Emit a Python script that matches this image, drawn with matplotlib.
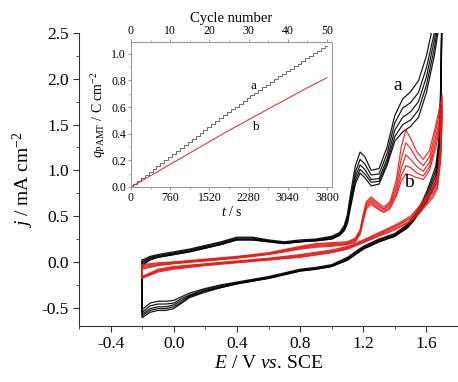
import numpy as np
import matplotlib
matplotlib.use("Agg")
import matplotlib.pyplot as plt
from matplotlib.ticker import MultipleLocator

plt.rcParams['font.family'] = ['Liberation Serif', 'DejaVu Serif']
plt.rcParams['mathtext.fontset'] = 'custom'
plt.rcParams['mathtext.rm'] = 'Liberation Serif'
plt.rcParams['mathtext.it'] = 'Liberation Serif:italic'

# ---- main CV data: series a (black), 5 representative cycles ----
Ea_fwd = [-0.2, -0.15, -0.1, 0.0, 0.1, 0.2, 0.3, 0.4, 0.5, 0.6, 0.7, 0.8, 0.9, 1.0, 1.05,
          1.08, 1.1, 1.12, 1.15, 1.18, 1.21, 1.25, 1.3, 1.35, 1.4, 1.45, 1.5, 1.55, 1.6, 1.65, 1.7]
ja_fwd = [
    [0.02, 0.06, 0.08, 0.11, 0.14, 0.18, 0.22, 0.27, 0.27, 0.24, 0.22, 0.24, 0.25, 0.28, 0.32,
     0.40, 0.52, 0.75, 1.05, 1.20, 1.15, 1.00, 1.02, 1.25, 1.60, 1.78, 1.86, 1.98, 2.25, 2.65, 3.0],
    [0.0, 0.05, 0.07, 0.10, 0.13, 0.17, 0.21, 0.26, 0.26, 0.23, 0.21, 0.23, 0.24, 0.27, 0.31,
     0.38, 0.49, 0.70, 0.98, 1.12, 1.07, 0.95, 0.96, 1.18, 1.52, 1.68, 1.74, 1.85, 2.12, 2.5, 2.95],
    [-0.01, 0.04, 0.06, 0.09, 0.12, 0.16, 0.20, 0.25, 0.25, 0.23, 0.21, 0.22, 0.24, 0.26, 0.30,
     0.36, 0.46, 0.66, 0.93, 1.06, 1.01, 0.90, 0.91, 1.12, 1.44, 1.58, 1.64, 1.75, 2.02, 2.42, 2.9],
    [-0.03, 0.03, 0.05, 0.08, 0.11, 0.15, 0.19, 0.24, 0.24, 0.22, 0.20, 0.22, 0.23, 0.25, 0.29,
     0.35, 0.44, 0.63, 0.89, 1.01, 0.96, 0.87, 0.88, 1.08, 1.37, 1.50, 1.55, 1.66, 1.93, 2.33, 2.85],
    [-0.04, 0.02, 0.05, 0.08, 0.11, 0.15, 0.19, 0.24, 0.24, 0.22, 0.20, 0.22, 0.23, 0.25, 0.29,
     0.34, 0.42, 0.60, 0.85, 0.97, 0.92, 0.83, 0.85, 1.05, 1.32, 1.42, 1.48, 1.58, 1.85, 2.25, 2.8],
]
Ea_rev = [1.7, 1.69, 1.68, 1.66, 1.63, 1.6, 1.56, 1.52, 1.48, 1.4, 1.3, 1.2, 1.1, 1.0, 0.9,
          0.8, 0.7, 0.6, 0.5, 0.4, 0.3, 0.2, 0.1, 0.05, 0.0, -0.05, -0.1, -0.15, -0.2]
ja_rev = [
    [3.0, 1.9, 1.35, 1.05, 0.90, 0.76, 0.61, 0.50, 0.41, 0.31, 0.25, 0.17, 0.05, -0.03, -0.06,
     -0.08, -0.12, -0.16, -0.19, -0.22, -0.25, -0.29, -0.34, -0.38, -0.42, -0.43, -0.43, -0.45, -0.52],
    [2.95, 1.82, 1.28, 1.0, 0.86, 0.73, 0.59, 0.49, 0.40, 0.30, 0.24, 0.16, 0.04, -0.04, -0.07,
     -0.09, -0.13, -0.17, -0.20, -0.23, -0.26, -0.30, -0.36, -0.40, -0.45, -0.46, -0.46, -0.48, -0.55],
    [2.9, 1.75, 1.22, 0.95, 0.82, 0.70, 0.58, 0.47, 0.39, 0.29, 0.23, 0.15, 0.03, -0.04, -0.07,
     -0.09, -0.13, -0.17, -0.20, -0.23, -0.27, -0.31, -0.37, -0.42, -0.47, -0.49, -0.49, -0.51, -0.57],
    [2.85, 1.68, 1.16, 0.90, 0.78, 0.67, 0.56, 0.46, 0.38, 0.28, 0.22, 0.14, 0.02, -0.05, -0.08,
     -0.10, -0.14, -0.18, -0.21, -0.24, -0.28, -0.32, -0.38, -0.44, -0.49, -0.51, -0.51, -0.53, -0.59],
    [2.8, 1.6, 1.1, 0.85, 0.75, 0.65, 0.55, 0.45, 0.37, 0.28, 0.22, 0.14, 0.02, -0.05, -0.08,
     -0.10, -0.14, -0.18, -0.21, -0.24, -0.28, -0.33, -0.39, -0.45, -0.51, -0.53, -0.53, -0.55, -0.61],
]

# ---- series b (red) ----
Eb_fwd = [-0.2, -0.1, 0.0, 0.2, 0.4, 0.6, 0.8, 0.9, 1.0, 1.1, 1.15, 1.18, 1.2, 1.22, 1.25,
          1.29, 1.33, 1.37, 1.41, 1.44, 1.47, 1.5, 1.54, 1.58, 1.62, 1.66, 1.7]
jb_fwd = [
    [-0.03, -0.01, 0.0, 0.03, 0.06, 0.10, 0.17, 0.20, 0.21, 0.22, 0.26, 0.35, 0.52, 0.66, 0.71,
     0.65, 0.60, 0.66, 0.90, 1.25, 1.44, 1.35, 1.20, 1.12, 1.22, 1.50, 1.82],
    [-0.04, -0.02, -0.005, 0.025, 0.055, 0.095, 0.16, 0.19, 0.20, 0.21, 0.25, 0.34, 0.50, 0.64, 0.69,
     0.63, 0.58, 0.64, 0.84, 1.12, 1.30, 1.24, 1.12, 1.05, 1.15, 1.44, 1.76],
    [-0.05, -0.03, -0.01, 0.02, 0.05, 0.09, 0.155, 0.18, 0.19, 0.20, 0.24, 0.33, 0.48, 0.62, 0.67,
     0.61, 0.57, 0.62, 0.79, 1.02, 1.17, 1.12, 1.04, 0.99, 1.09, 1.37, 1.70],
    [-0.065, -0.035, -0.015, 0.015, 0.045, 0.085, 0.145, 0.17, 0.18, 0.195, 0.23, 0.31, 0.46, 0.60, 0.65,
     0.59, 0.55, 0.60, 0.75, 0.94, 1.05, 1.03, 0.97, 0.94, 1.04, 1.31, 1.65],
    [-0.08, -0.04, -0.02, 0.01, 0.04, 0.08, 0.14, 0.16, 0.17, 0.19, 0.22, 0.30, 0.45, 0.58, 0.63,
     0.58, 0.54, 0.58, 0.72, 0.88, 0.96, 0.95, 0.92, 0.90, 1.00, 1.25, 1.60],
]
Eb_rev = [1.7, 1.69, 1.67, 1.64, 1.6, 1.55, 1.5, 1.4, 1.3, 1.2, 1.1, 1.0, 0.8, 0.6, 0.4, 0.2,
          0.0, -0.1, -0.2]
jb_rev = [
    [1.82, 1.30, 0.95, 0.82, 0.72, 0.60, 0.50, 0.40, 0.32, 0.24, 0.17, 0.13, 0.08, 0.04, 0.01,
     -0.02, -0.05, -0.08, -0.16],
    [1.76, 1.25, 0.91, 0.79, 0.70, 0.58, 0.48, 0.39, 0.31, 0.23, 0.16, 0.12, 0.07, 0.035, 0.005,
     -0.025, -0.06, -0.09, -0.165],
    [1.70, 1.20, 0.87, 0.76, 0.67, 0.56, 0.47, 0.38, 0.30, 0.22, 0.155, 0.115, 0.065, 0.03, 0.0,
     -0.03, -0.065, -0.095, -0.17],
    [1.65, 1.15, 0.83, 0.73, 0.64, 0.54, 0.45, 0.36, 0.29, 0.215, 0.145, 0.105, 0.055, 0.025, -0.005,
     -0.035, -0.07, -0.10, -0.175],
    [1.60, 1.10, 0.80, 0.70, 0.62, 0.52, 0.44, 0.35, 0.28, 0.21, 0.14, 0.10, 0.05, 0.02, -0.01,
     -0.04, -0.08, -0.11, -0.18],
]

# ---- inset: charge vs time ----
cycle_time = 76  # s per cycle
q_a = [0.000, 0.024, 0.047, 0.070, 0.092, 0.114, 0.136, 0.158, 0.180, 0.202,
       0.225, 0.247, 0.270, 0.292, 0.315, 0.337, 0.360, 0.382, 0.405, 0.427,
       0.450, 0.472, 0.494, 0.516, 0.538, 0.560, 0.582, 0.603, 0.624, 0.645,
       0.666, 0.687, 0.708, 0.728, 0.749, 0.769, 0.789, 0.810, 0.830, 0.850,
       0.870, 0.889, 0.908, 0.927, 0.946, 0.965, 0.984, 1.003, 1.022, 1.041, 1.060]
cyc_b = [0, 5, 10, 15, 20, 25, 30, 35, 40, 45, 50]
q_b = [0.0, 0.085, 0.17, 0.255, 0.34, 0.425, 0.505, 0.585, 0.665, 0.745, 0.82]

red = '#e3201c'

fig = plt.figure(figsize=(4.58, 3.82), dpi=100)
ax = fig.add_axes([0.1725, 0.1466, 0.8275, 0.767])

for jf, jr in zip(ja_fwd, ja_rev):
    E = Ea_fwd + Ea_rev + [Ea_fwd[0]]
    j = jf + jr + [jf[0]]
    ax.plot(E, j, color='k', lw=0.9, alpha=0.9)
for jf, jr in zip(jb_fwd, jb_rev):
    E = Eb_fwd + Eb_rev + [Eb_fwd[0]]
    j = jf + jr + [jf[0]]
    ax.plot(E, j, color=red, lw=0.9, alpha=0.9)

ax.set_xlim(-0.6, 1.8)
ax.set_ylim(-0.7, 2.5)
ax.xaxis.set_minor_locator(MultipleLocator(0.2))
ax.yaxis.set_minor_locator(MultipleLocator(0.25))
ax.set_xticks([-0.4, 0.0, 0.4, 0.8, 1.2, 1.6])
ax.set_xticklabels(['-0.4', '0.0', '0.4', '0.8', '1.2', '1.6'])
ax.set_yticks([-0.5, 0.0, 0.5, 1.0, 1.5, 2.0, 2.5])
ax.set_yticklabels(['-0.5', '0.0', '0.5', '1.0', '1.5', '2.0', '2.5'])
for s in ['top', 'right']:
    ax.spines[s].set_visible(False)
for s in ['left', 'bottom']:
    ax.spines[s].set_color('#333333')
ax.tick_params(which='major', direction='out', length=4, labelsize=12.5, color='#333333')
ax.tick_params(which='minor', direction='out', length=2.5, color='#333333')
ax.set_xlabel(r'$\mathit{E}$ / V $\mathit{vs}$. SCE', fontsize=14, labelpad=2)
ax.set_ylabel(r'$\mathit{j}$ / mA cm$^{-2}$', fontsize=14, labelpad=4)
ax.text(1.42, 1.93, 'a', fontsize=14, ha='center', va='center')
ax.text(1.49, 0.87, 'b', fontsize=14, ha='center', va='center')

# inset
ins = fig.add_axes([0.286, 0.5105, 0.439, 0.380])
t_a = [c * cycle_time for c in range(len(q_a))]
ins.plot(t_a, q_a, color='#555555', lw=0.6, drawstyle='steps-mid')
ins.plot([c * cycle_time for c in cyc_b], q_b, color=red, lw=0.7)
ins.set_xlim(0, 3900)
ins.set_ylim(0, 1.09)
ins.set_xticks([0, 760, 1520, 2280, 3040, 3800])
ins.xaxis.set_minor_locator(MultipleLocator(380))
ins.yaxis.set_minor_locator(MultipleLocator(0.1))
ins.set_yticks([0.0, 0.2, 0.4, 0.6, 0.8, 1.0])
ins.set_yticklabels(['0.0', '0.2', '0.4', '0.6', '0.8', '1.0'])
for s in ins.spines.values():
    s.set_color('#999999')
    s.set_linewidth(0.8)
ins.tick_params(which='major', direction='out', length=2.5, labelsize=8.5, color='#999999', pad=1)
ins.tick_params(which='minor', direction='out', length=1.5, color='#999999')
ins.set_xlabel(r'$\mathit{t}$ / s', fontsize=10, labelpad=1)
ins.set_ylabel(r'$\mathit{q}_{\mathrm{PAMT}}$ / C cm$^{-2}$', fontsize=10, labelpad=2)
ins.text(2385, 0.76, 'a', fontsize=9.5, ha='center', va='center')
ins.text(2420, 0.45, 'b', fontsize=9.5, ha='center', va='center')

top = ins.twiny()
top.set_xlim(0, 3900 / cycle_time)
top.set_xticks([0, 10, 20, 30, 40, 50])
top.xaxis.set_minor_locator(MultipleLocator(5))
for s in top.spines.values():
    s.set_visible(False)
top.tick_params(which='major', direction='out', length=2.5, labelsize=8.5, color='#999999', pad=1)
top.tick_params(which='minor', direction='out', length=1.5, color='#999999')
top.set_xlabel('Cycle number', fontsize=10.5, labelpad=2)

fig.savefig('out.png', dpi=100)
